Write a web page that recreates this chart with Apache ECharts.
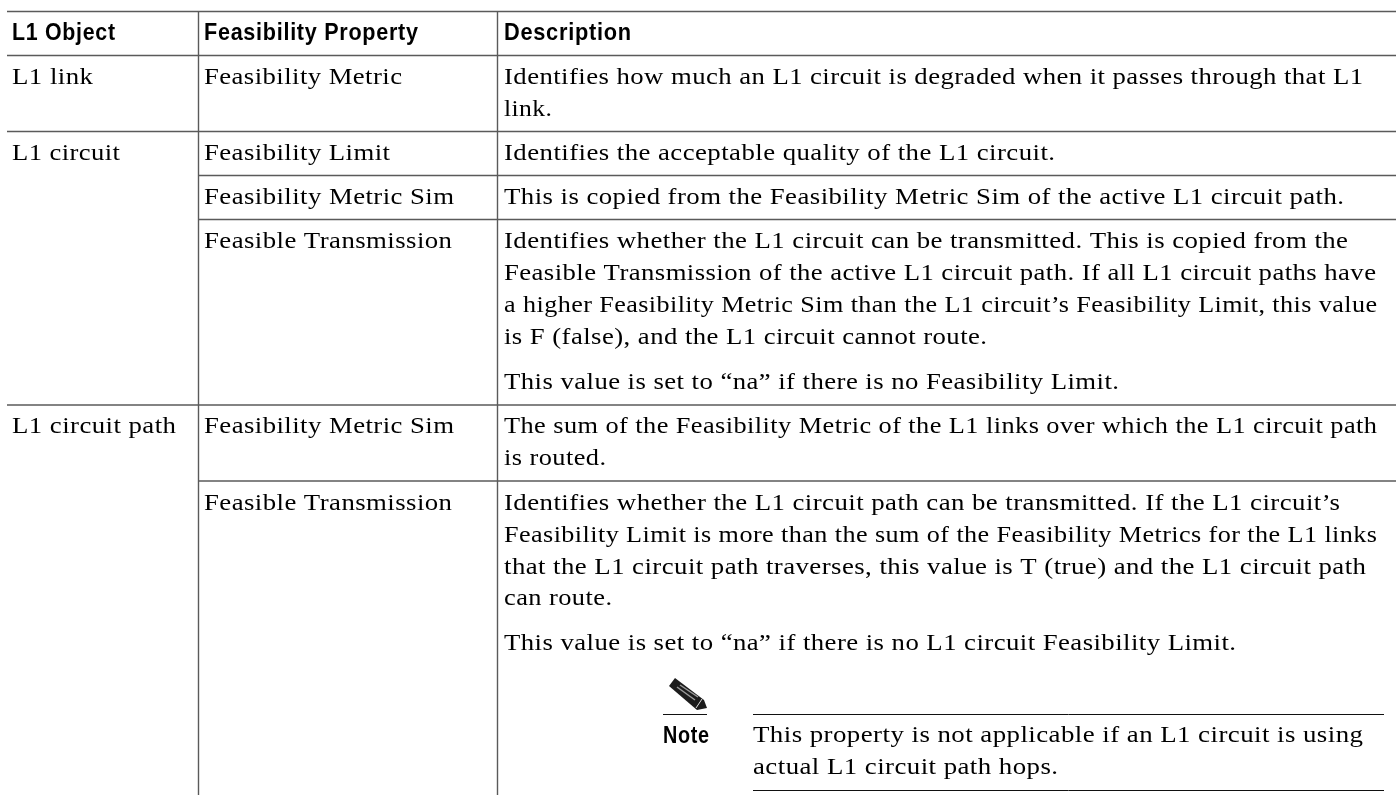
<!DOCTYPE html>
<html>
<head>
<meta charset="utf-8">
<title>L1 Feasibility Properties</title>
<style>
html, body { margin: 0; padding: 0; background: #fff; }
#chart { width: 1396px; height: 795px; }
</style>
</head>
<body>
<div id="chart"></div>
<script src="https://cdn.jsdelivr.net/npm/echarts@6/dist/echarts.min.js"></script>
<script>
var headers = ['L1 Object', 'Feasibility Property', 'Description'];
var objects = ['L1 link', 'L1 circuit', 'L1 circuit path'];
var properties = ['Feasibility Metric', 'Feasibility Limit', 'Feasibility Metric Sim', 'Feasible Transmission', 'Feasibility Metric Sim', 'Feasible Transmission'];
var descriptions = [
	['Identifies how much an L1 circuit is degraded when it passes through that L1', 'link.'],
	['Identifies the acceptable quality of the L1 circuit.'],
	['This is copied from the Feasibility Metric Sim of the active L1 circuit path.'],
	['Identifies whether the L1 circuit can be transmitted. This is copied from the',
		'Feasible Transmission of the active L1 circuit path. If all L1 circuit paths have',
		'a higher Feasibility Metric Sim than the L1 circuit\u2019s Feasibility Limit, this value',
		'is F (false), and the L1 circuit cannot route.',
		'This value is set to \u201cna\u201d if there is no Feasibility Limit.'],
	['The sum of the Feasibility Metric of the L1 links over which the L1 circuit path', 'is routed.'],
	['Identifies whether the L1 circuit path can be transmitted. If the L1 circuit\u2019s',
		'Feasibility Limit is more than the sum of the Feasibility Metrics for the L1 links',
		'that the L1 circuit path traverses, this value is T (true) and the L1 circuit path',
		'can route.',
		'This value is set to \u201cna\u201d if there is no L1 circuit Feasibility Limit.']
];
var noteLabel = 'Note';
var noteLines = ['This property is not applicable if an L1 circuit is using', 'actual L1 circuit path hops.'];

// layout, in page pixels: text left edge, baseline and right edge
var colText = [12, 204, 504];
var headerBase = 40;
var headerEnd = [115, 418, 631];
var objectBase = [84, 160, 433];
var objectEnd = [93, 120, 176];
var propertyBase = [84, 160, 204, 248, 433, 510];
var propertyEnd = [402, 390, 454, 452, 454, 452];
var descBase = [
	[84, 116],
	[160],
	[204],
	[248, 280, 312, 344, 389],
	[433, 465],
	[510, 542, 574, 605, 650]
];
var descEnd = [
	[1363, 552],
	[1055],
	[1344],
	[1348, 1376, 1377, 987, 1119],
	[1377, 606],
	[1340, 1377, 1366, 612, 1236]
];
var noteX = 753, noteLabelX = 663, noteLabelBase = 743, noteLabelEnd = 709;
var noteBase = [742, 774], noteEnd = [1363, 1058];

var rules = [
	[7, 11.5, 1396, 11.5], [7, 55.5, 1396, 55.5], [7, 131.5, 1396, 131.5],
	[198, 175.5, 1396, 175.5], [198, 219.5, 1396, 219.5], [7, 405, 1396, 405],
	[198, 481, 1396, 481],
	[198.5, 11.5, 198.5, 795], [497.5, 11.5, 497.5, 795]
];
var noteRules = [[753, 714.5, 1384, 714.5], [753, 790.5, 1384, 790.5], [663, 714.5, 707, 714.5]];

var bodyFont = '24px "Liberation Serif", serif';
var headFont = 'bold 24px "Liberation Sans", sans-serif';
var bodySpacing = 0.4, headSpacing = 0.8;
var bodyTexts = [], headTexts = [];

headers.forEach(function(h, i) { headTexts.push([colText[i], headerBase, h, headerEnd[i]]); });
headTexts.push([noteLabelX, noteLabelBase, noteLabel, noteLabelEnd]);
objects.forEach(function(o, i) { bodyTexts.push([colText[0], objectBase[i], o, objectEnd[i]]); });
properties.forEach(function(p, i) { bodyTexts.push([colText[1], propertyBase[i], p, propertyEnd[i]]); });
descriptions.forEach(function(lines, i) {
	lines.forEach(function(l, j) { bodyTexts.push([colText[2], descBase[i][j], l, descEnd[i][j]]); });
});
noteLines.forEach(function(l, j) { bodyTexts.push([noteX, noteBase[j], l, noteEnd[j]]); });

var measure = document.createElement('canvas').getContext('2d');
function stretch(t, font, spacing) {
	measure.font = font;
	measure.letterSpacing = spacing + 'px';
	return (t[3] - t[0]) / (measure.measureText(t[2]).width - spacing);
}

function ruleSeries(list, colour, width) {
	return {
		type: 'custom', silent: true, clip: false, data: list,
		encode: { x: [0, 2], y: [1, 3] },
		renderItem: function(params, api) {
			var a = api.coord([api.value(0), api.value(1)]);
			var b = api.coord([api.value(2), api.value(3)]);
			return { type: 'line', shape: { x1: a[0], y1: a[1], x2: b[0], y2: b[1] }, style: { stroke: colour, lineWidth: width } };
		}
	};
}

function textSeries(list, font, spacing, dy, zlevel) {
	return {
		type: 'custom', silent: true, clip: false, zlevel: zlevel,
		data: list.map(function(t) { return [t[0], t[1]]; }),
		encode: { x: 0, y: 1 },
		renderItem: function(params, api) {
			var t = list[params.dataIndex];
			var p = api.coord([t[0], t[1]]);
			return {
				type: 'text', x: p[0], y: p[1] - dy, scaleX: stretch(t, font, spacing),
				style: { text: t[2], textAlign: 'left', verticalAlign: 'middle', fill: '#000', font: font }
			};
		}
	};
}

var chart = echarts.init(document.getElementById('chart'), null, { renderer: 'canvas' });
chart.setOption({
	backgroundColor: '#fff',
	animation: false,
	tooltip: { show: false },
	grid: { left: 0, right: 0, top: 0, bottom: 0 },
	xAxis: { type: 'value', min: 0, max: 1396, show: false },
	yAxis: { type: 'value', min: 0, max: 795, inverse: true, show: false },
	series: [
		ruleSeries(rules, '#5a5a5a', 1.4),
		ruleSeries(noteRules, '#111', 1),
		textSeries(bodyTexts, bodyFont, bodySpacing, 6.5, 0),
		textSeries(headTexts, headFont, headSpacing, 7, 1),
		{
			// note pencil
			type: 'custom', silent: true, clip: false,
			data: [[668, 678]],
			encode: { x: 0, y: 1 },
			renderItem: function(params, api) {
				var p = api.coord([api.value(0), api.value(1)]);
				return {
					type: 'group', x: p[0], y: p[1],
					children: [
						{ type: 'polygon', shape: { points: [[7, 0], [36, 22], [39, 30], [29, 32], [1, 8]] }, style: { fill: '#1c1c1c' } },
						{ type: 'line', shape: { x1: 9, y1: 9, x2: 27, y2: 22 }, style: { stroke: '#9a9a9a', lineWidth: 1.5 } },
						{ type: 'line', shape: { x1: 12, y1: 7, x2: 30, y2: 19 }, style: { stroke: '#9a9a9a', lineWidth: 1.5 } },
						{ type: 'line', shape: { x1: 34, y1: 21, x2: 28, y2: 30 }, style: { stroke: '#ddd', lineWidth: 1 } }
					]
				};
			}
		}
	]
});

// zrender has no letter spacing option, so set it on each canvas layer and repaint
var painter = chart.getZr().painter;
painter.eachLayer(function(layer, z) {
	layer.ctx.letterSpacing = (z === 1 ? headSpacing : bodySpacing) + 'px';
});
painter.refresh(true);
</script>
</body>
</html>
